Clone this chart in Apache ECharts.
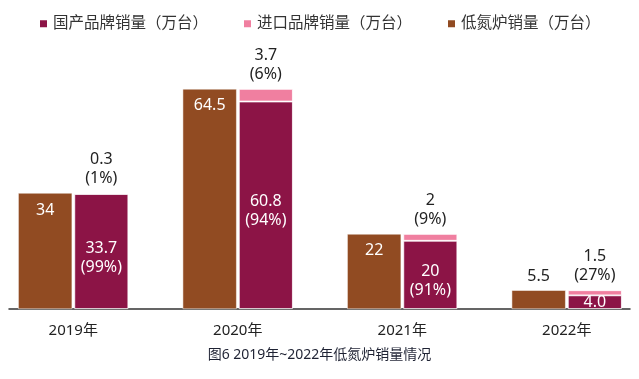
<!DOCTYPE html>
<html>
<head>
<meta charset="utf-8">
<script src="https://cdn.jsdelivr.net/npm/echarts@6/dist/echarts.min.js"></script>
<style>
html,body{margin:0;padding:0;background:#fff;}
#main{width:639px;height:379px;}
</style>
</head>
<body>
<div id="main"></div>
<script>
var categories = ['2019年', '2020年', '2021年', '2022年'];
var lowNoxSales = [34, 64.5, 22, 5.5];
var domesticSales = [33.7, 60.8, 20, 4.0];
var importedSales = [0.3, 3.7, 2, 1.5];
var domesticLabels = ['33.7\n(99%)', '60.8\n(94%)', '20\n(91%)', '4.0'];
var importedLabels = ['0.3\n(1%)', '3.7\n(6%)', '2\n(9%)', '1.5\n(27%)'];
var lowNoxLabels = ['34', '64.5', '22', '5.5'];
var seriesNames = ['国产品牌销量（万台）', '进口品牌销量（万台）', '低氮炉销量（万台）'];
var captionText = '图6 2019年~2022年低氮炉销量情况';

var C_BROWN = '#914B22', C_RED = '#8C1446', C_PINK = '#F07FA0';
var FONT = '"Noto Sans", "Noto Sans CJK SC", sans-serif';

var chart = echarts.init(document.getElementById('main'));
chart.setOption({
  backgroundColor: '#ffffff',
  animation: false,
  textStyle: { fontFamily: FONT },
  title: {
    text: captionText,
    left: 'center',
    top: 343,
    textStyle: { fontSize: 14, fontWeight: 'normal', color: '#1e2233', fontFamily: FONT }
  },
  legend: {
    data: seriesNames,
    top: 11,
    left: 33,
    itemWidth: 9,
    itemHeight: 9,
    itemGap: 34,
    icon: 'rect',
    textStyle: { fontSize: 15.5, color: '#333', fontFamily: FONT }
  },
  grid: [
    { left: -9, right: -10, top: 36, bottom: 70, containLabel: false, outerBoundsMode: 'none' },
    { left: 9, right: 9, top: 36, bottom: 70, containLabel: false, outerBoundsMode: 'none' }
  ],
  xAxis: [
    {
      type: 'category', gridIndex: 0, data: categories,
      axisLine: { show: false }, axisTick: { show: false },
      axisLabel: { fontSize: 15, color: '#222', margin: 14, fontFamily: FONT }
    },
    {
      type: 'category', gridIndex: 1, data: categories,
      axisLine: { show: true, lineStyle: { color: '#333', width: 1.5 } },
      axisTick: { show: false }, axisLabel: { show: false }
    }
  ],
  yAxis: [
    { type: 'value', gridIndex: 0, min: 0, max: 80, show: false },
    { type: 'value', gridIndex: 1, min: 0, max: 80, show: false }
  ],
  series: [
    {
      name: seriesNames[2], type: 'bar', xAxisIndex: 0, yAxisIndex: 0,
      barWidth: 54, barGap: '4%',
      itemStyle: { color: C_BROWN, borderColor: '#fff', borderWidth: 0.5 },
      data: lowNoxSales.map(function (v, i) {
        var short = v < 10;
        return {
          value: v,
          label: {
            show: true,
            position: short ? 'top' : 'insideTop',
            distance: short ? 6 : 9,
            color: short ? '#222' : '#fff',
            fontSize: 16,
            fontFamily: FONT,
            formatter: lowNoxLabels[i]
          }
        };
      })
    },
    {
      name: seriesNames[0], type: 'bar', stack: 'brand', xAxisIndex: 0, yAxisIndex: 0,
      barWidth: 54,
      itemStyle: { color: C_RED, borderColor: '#fff', borderWidth: 0.8 },
      data: domesticSales.map(function (v, i) {
        var short = v < 10;
        return {
          value: v,
          label: {
            show: true,
            position: short ? 'insideBottom' : 'inside',
            distance: 0,
            offset: short ? [0, 3] : [0, 6],
            color: '#fff',
            fontSize: 16,
            lineHeight: 19,
            fontFamily: FONT,
            formatter: domesticLabels[i]
          }
        };
      })
    },
    {
      name: seriesNames[1], type: 'bar', stack: 'brand', xAxisIndex: 0, yAxisIndex: 0,
      barWidth: 54,
      itemStyle: { color: C_PINK, borderColor: '#fff', borderWidth: 0.8 },
      data: importedSales.map(function (v, i) {
        return {
          value: v,
          label: {
            show: true,
            position: 'top',
            distance: 5,
            color: '#222',
            fontSize: 16,
            lineHeight: 19,
            fontFamily: FONT,
            formatter: importedLabels[i]
          }
        };
      })
    }
  ]
});
</script>
</body>
</html>
